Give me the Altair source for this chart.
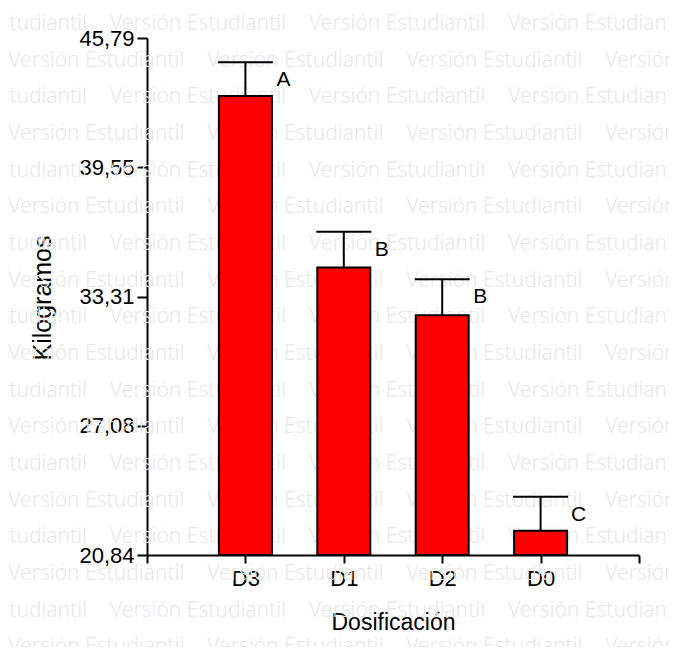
import json
import altair as alt
import pandas as pd

# ---- data ----
categories = ["D3", "D1", "D2", "D0"]
means = [42.99, 34.72, 32.41, 22.01]
errors = [1.63, 1.72, 1.74, 1.64]
letters = ["A", "B", "B", "C"]
y_ticks = [20.84, 27.08, 33.31, 39.55, 45.79]
y_min, y_max = 20.84, 45.79

df = pd.DataFrame({
    "cat": categories,
    "pos": list(range(1, len(categories) + 1)),
    "mean": means,
    "err": errors,
    "letter": letters,
})
df["top"] = df["mean"] + df["err"]
df["base"] = y_min

# ---- layout (pixels) ----
W, H = 492, 517
PAD = {"left": 139, "top": 30, "right": 30, "bottom": 92}
PLOT_X0, PLOT_Y0 = 8 + PAD["left"], 8 + PAD["top"]  # page coords of plot origin

# ---- watermark "Versión Estudiantil" (decoration) ----
wm_rows = []
for k in range(18):
    yp = 30 + 36.67 * k
    x0 = -89 if k % 2 == 0 else 8.3
    for j in range(-1, 5):
        wm_rows.append({"wx": x0 + 199 * j - PLOT_X0, "wy": yp - PLOT_Y0, "t": "Versión Estudiantil"})
wm_df = pd.DataFrame(wm_rows)

wm = alt.Chart(wm_df).mark_text(
    font="Noto Sans", fontSize=21, fontWeight=300, color="#e8e8e8",
    align="left", baseline="alphabetic"
).encode(
    x=alt.X("wx:Q", scale=None, axis=None),
    y=alt.Y("wy:Q", scale=None, axis=None),
    text="t:N",
)

x_labels = json.dumps([""] + categories + [""])
xenc = alt.X(
    "pos:Q",
    scale=alt.Scale(domain=[0, len(categories) + 1], nice=False, zero=False, padding=0),
    axis=alt.Axis(
        values=list(range(0, len(categories) + 2)),
        labelExpr=f"{x_labels}[datum.value]",
        title="Dosificación",
        tickSize=8,
        labelPadding=5,
        labelFontSize=22,
        titleFontSize=23,
        titleY=74,
        titleBaseline="alphabetic",
    ),
)
yscale = alt.Scale(domain=[y_min, y_max], nice=False, zero=False, padding=0)
yaxis = alt.Axis(
    values=y_ticks,
    labelExpr="replace(format(datum.value, '.2f'), '.', ',')",
    title="Kilogramos",
    tickSize=10,
    labelPadding=3,
    labelFontSize=22,
    titleFontSize=25,
    titleAngle=-90,
    titleX=-97,
    titleY=H / 2 + 1,
    titleAlign="center",
    titleBaseline="alphabetic",
)

base = alt.Chart(df)
bars = base.mark_bar(size=53, color="#ff0000", stroke="black", strokeWidth=2).encode(
    x=xenc,
    y=alt.Y("mean:Q", scale=yscale, axis=yaxis),
    y2="base:Q",
)
err = base.mark_rule(color="black", strokeWidth=2).encode(
    x="pos:Q", y="mean:Q", y2="top:Q"
)
cap = base.mark_tick(orient="horizontal", size=55, thickness=2, color="black", opacity=1).encode(
    x="pos:Q", y="top:Q"
)
txt = base.mark_text(
    dx=38, dy=18, fontSize=21, font="Liberation Sans", color="black",
    align="center", baseline="middle"
).encode(x="pos:Q", y="top:Q", text="letter:N")

main = alt.layer(bars, err, cap, txt)

chart = (
    alt.layer(wm, main)
    .resolve_scale(x="independent", y="independent")
    .properties(width=W, height=H, padding=PAD, autosize=alt.AutoSizeParams(type="none"),
                background="white")
    .configure_view(stroke=None)
    .configure_axis(
        domainColor="black", domainWidth=2, tickColor="black", tickWidth=2,
        labelColor="black", titleColor="black", labelFont="Liberation Sans",
        titleFont="Liberation Sans", titleFontWeight="normal", grid=False,
    )
)

chart.save("out.html", embed_options={"renderer": "svg", "actions": False})
